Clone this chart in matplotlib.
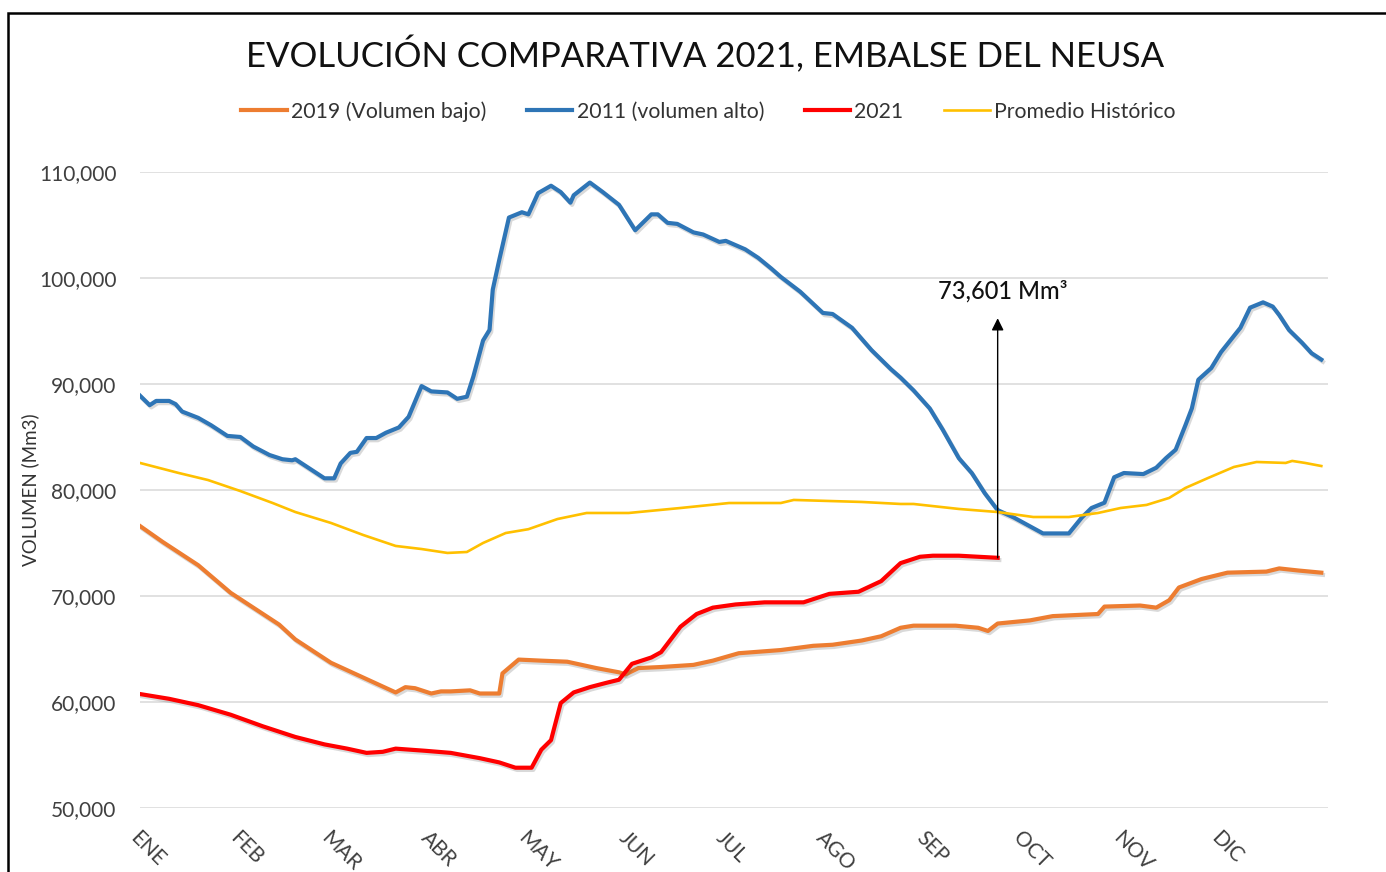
#!/usr/bin/env python3
"""Neusa reservoir volume comparison chart (2011, 2019, 2021, historic mean)."""

import matplotlib
matplotlib.use("Agg")
import matplotlib.pyplot as plt
import matplotlib.patheffects as pe
from matplotlib.lines import Line2D
from matplotlib.patches import Rectangle
from matplotlib.ticker import FuncFormatter

plt.rcParams["font.family"] = ["DejaVu Sans"]
NARROW = ["Lato", "DejaVu Sans"]

# --- data (day of year, volume Mm3) ---
MONTHS = ["ENE", "FEB", "MAR", "ABR", "MAY", "JUN", "JUL", "AGO", "SEP", "OCT", "NOV", "DIC"]
MONTH_START = [0, 31, 59, 90, 120, 151, 181, 212, 243, 273, 304, 334]

days_2019 = [0, 7, 18, 28, 33, 43, 48, 59, 69, 79, 82, 85, 90, 93, 96, 102, 105, 111, 112, 117,
             124, 132, 141, 148, 150, 154, 161, 171, 177, 185, 198, 208, 214, 223, 229, 235, 239,
             252, 259, 262, 265, 275, 282, 296, 298, 309, 314, 318, 321, 328, 336, 348, 352, 358, 365]
vol_2019 = [76600, 75100, 72900, 70300, 69300, 67300, 65900, 63700, 62300, 60900, 61400, 61300,
            60800, 61000, 61000, 61100, 60800, 60800, 62700, 64000, 63900, 63800, 63200, 62800,
            62600, 63200, 63300, 63500, 63900, 64600, 64900, 65300, 65400, 65800, 66200, 67000,
            67200, 67200, 67000, 66700, 67400, 67700, 68100, 68300, 69000, 69100, 68900, 69600,
            70800, 71600, 72200, 72300, 72600, 72400, 72200]

days_2011 = [0, 3, 5, 9, 11, 13, 18, 22, 27, 31, 35, 40, 44, 47, 48, 52, 57, 60, 62, 65, 67, 70,
             73, 76, 80, 83, 87, 90, 95, 98, 101, 103, 106, 108, 109, 111, 114, 118, 120, 123, 127,
             130, 133, 134, 139, 143, 148, 153, 158, 160, 163, 166, 171, 174, 179, 181, 187, 191,
             195, 198, 204, 211, 214, 220, 226, 232, 235, 239, 244, 248, 253, 257, 261, 265, 270,
             276, 279, 287, 291, 294, 298, 301, 304, 310, 314, 317, 320, 323, 325, 327, 331, 334,
             340, 343, 347, 350, 352, 355, 359, 362, 365]
vol_2011 = [88900, 88000, 88400, 88400, 88100, 87400, 86800, 86100, 85100, 85000, 84100, 83300,
            82900, 82800, 82900, 82100, 81100, 81100, 82500, 83500, 83600, 84900, 84900, 85400,
            85900, 86900, 89800, 89300, 89200, 88600, 88800, 90700, 94100, 95100, 98900, 101700,
            105700, 106200, 106000, 108000, 108700, 108100, 107100, 107800, 109000, 108100, 106900,
            104500, 106000, 106000, 105200, 105100, 104300, 104100, 103400, 103500, 102700, 101900,
            100900, 100100, 98700, 96700, 96600, 95300, 93200, 91400, 90600, 89400, 87700, 85700,
            83000, 81600, 79700, 78100, 77400, 76400, 75900, 75900, 77400, 78300, 78800, 81200,
            81600, 81500, 82100, 83000, 83800, 86100, 87700, 90400, 91500, 93000, 95300, 97200,
            97700, 97300, 96500, 95100, 93900, 92900, 92300]

days_2021 = [0, 9, 18, 28, 38, 48, 57, 64, 70, 75, 79, 88, 96, 105, 111, 116, 121, 124, 127, 130,
             134, 139, 144, 148, 152, 158, 161, 167, 172, 177, 184, 193, 205, 213, 222, 229, 235,
             241, 245, 253, 259, 265]
vol_2021 = [60750, 60300, 59700, 58800, 57700, 56700, 56000, 55600, 55200, 55300, 55600, 55400,
            55200, 54700, 54300, 53800, 53800, 55500, 56400, 59900, 60900, 61400, 61800, 62100,
            63600, 64200, 64700, 67100, 68300, 68900, 69200, 69400, 69400, 70200, 70400, 71400,
            73100, 73700, 73800, 73800, 73700, 73601]

days_hist = [0, 12, 21, 31, 41, 48, 59, 69, 79, 87, 95, 101, 106, 113, 120, 129, 138, 151, 167,
             182, 198, 202, 213, 223, 235, 239, 253, 265, 276, 287, 296, 303, 311, 318, 323, 330,
             338, 345, 354, 356, 360, 365]
vol_hist = [82550, 81600, 80940, 79900, 78770, 77920, 76890, 75750, 74720, 74430, 74060, 74150,
            75000, 75940, 76300, 77260, 77830, 77830, 78300, 78770, 78770, 79060, 78960, 78870,
            78680, 78680, 78210, 77920, 77450, 77450, 77830, 78300, 78590, 79250, 80190, 81130,
            82170, 82640, 82550, 82740, 82550, 82260]

ANNOT_TEXT = "73,601 Mm³"
ANNOT_TIP = 96200

SHADOW = [pe.SimpleLineShadow(offset=(1.2, -1.6), shadow_color="#555555", alpha=0.22),
          pe.Normal()]

SERIES = [
    (days_2019, vol_2019, "#ED7D31", 3.0, "2019 (Volumen bajo)"),
    (days_2011, vol_2011, "#2E75B6", 3.0, "2011 (volumen alto)"),
    (days_2021, vol_2021, "#FF0000", 3.0, "2021"),
    (days_hist, vol_hist, "#FFC000", 1.9, "Promedio Histórico"),
]


def main():
    fig = plt.figure(figsize=(13.86, 8.72), dpi=100)
    ax = fig.add_axes([0.101, 0.0734, 0.857, 0.7294])

    handles = []
    for d, v, color, lw, label in SERIES:
        effects = SHADOW if lw > 2 else None
        ax.plot(d, v, color=color, lw=lw, path_effects=effects,
                zorder=4 if label == "2021" else 3)
        handles.append(Line2D([], [], color=color, lw=lw, label=label))

    # annotation arrow from the last 2021 value
    ax.annotate("", xy=(days_2021[-1], ANNOT_TIP), xytext=(days_2021[-1], vol_2021[-1]),
                arrowprops=dict(arrowstyle="-|>", color="black", lw=1.0, mutation_scale=18,
                                shrinkA=0, shrinkB=0), zorder=5)
    ax.text(days_2021[-1] + 1.5, 97700, ANNOT_TEXT, ha="center", va="bottom", fontsize=17,
            color="#111111", family=NARROW, fontweight="medium")

    ax.set_xlim(0, 367)
    ax.set_ylim(50000, 110000)
    ax.set_yticks(range(50000, 110001, 10000))
    ax.yaxis.set_major_formatter(FuncFormatter(lambda v, _: f"{int(v):,}"))
    ax.set_xticks(MONTH_START)
    ax.set_xticklabels(MONTHS, rotation=-45, ha="left", va="top", rotation_mode="anchor")
    ax.tick_params(axis="both", length=0, labelsize=15, colors="#404040")
    ax.tick_params(axis="x", pad=14)
    ax.tick_params(axis="y", pad=17)
    for lab in ax.get_xticklabels() + ax.get_yticklabels():
        lab.set_family(NARROW)
    ax.grid(axis="y", color="#D9D9D9", lw=1.1)
    ax.set_axisbelow(True)
    for s in ax.spines.values():
        s.set_visible(False)

    fig.text(0.022, 0.438, "VOLUMEN (Mm3)", rotation=90, ha="center", va="center",
             fontsize=13.5, color="#333333", family=NARROW)
    fig.text(0.509, 0.937, "EVOLUCIÓN COMPARATIVA 2021, EMBALSE DEL NEUSA", ha="center",
             va="center", fontsize=25, color="#111111", family=NARROW)

    fig.legend(handles=handles, loc="center", bbox_to_anchor=(0.511, 0.872), ncol=4,
               frameon=False, prop={"family": NARROW, "size": 15.3}, handlelength=2.15,
               handletextpad=0.2, columnspacing=1.9, labelcolor="#333333")

    # outer frame (cut off at right and bottom)
    fig.add_artist(Rectangle((0.006, -0.1), 1.2, 1.085, transform=fig.transFigure,
                             fill=False, edgecolor="black", lw=1.8))

    fig.savefig("out.png", dpi=100, facecolor="white")
    plt.close(fig)


if __name__ == "__main__":
    main()
